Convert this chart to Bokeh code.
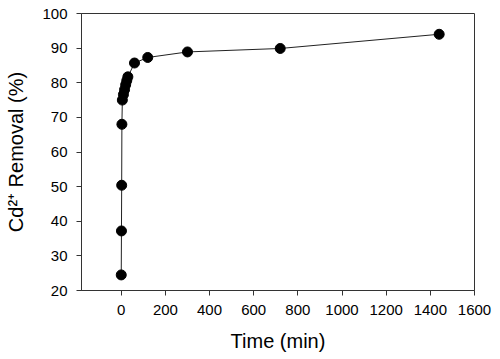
from bokeh.plotting import figure
from bokeh.models import Range1d, FixedTicker
from bokeh.embed import file_html
from bokeh.resources import INLINE

# Data
time_min = [0, 1, 2, 3, 5, 10, 15, 20, 25, 30, 60, 120, 300, 720, 1440]
removal_pct = [24.5, 37.2, 50.4, 68.0, 75.0, 76.6, 78.0, 79.4, 80.6, 81.7, 85.7, 87.3, 88.9, 89.9, 94.0]

x_ticks = [0, 200, 400, 600, 800, 1000, 1200, 1400, 1600]
y_ticks = [20, 30, 40, 50, 60, 70, 80, 90, 100]

FONT = "Liberation Sans"

p = figure(width=492, height=355, output_backend="svg", toolbar_location=None,
           x_range=Range1d(-180, 1600), y_range=Range1d(20, 100),
           min_border_left=81, min_border_right=18, min_border_top=13, min_border_bottom=65)

p.line(time_min, removal_pct, line_color="#222222", line_width=1)
p.scatter(time_min, removal_pct, size=10, fill_color="black", line_color="black")

p.xgrid.visible = False
p.ygrid.visible = False
p.outline_line_color = "#333333"
p.outline_line_width = 1

for ax in (p.xaxis[0], p.yaxis[0]):
    ax.axis_line_color = "#333333"
    ax.major_tick_line_color = "#333333"
    ax.minor_tick_line_color = None
    ax.major_tick_in = 0
    ax.major_tick_out = 5
    ax.major_label_text_font = FONT
    ax.major_label_text_font_size = "15px"
    ax.major_label_text_color = "black"
    ax.axis_label_text_font = FONT
    ax.axis_label_text_font_size = "20px"
    ax.axis_label_text_font_style = "normal"
    ax.axis_label_text_color = "black"

p.xaxis[0].ticker = FixedTicker(ticks=x_ticks)
p.yaxis[0].ticker = FixedTicker(ticks=y_ticks)
p.xaxis[0].axis_label = "Time (min)"
p.yaxis[0].axis_label = "Cd\u00b2\u207a Removal (%)"
p.xaxis[0].major_label_standoff = 9
p.yaxis[0].major_label_standoff = 9
p.xaxis[0].axis_label_standoff = 12
p.yaxis[0].axis_label_standoff = 12

open("out.html", "w").write(file_html(p, INLINE))
